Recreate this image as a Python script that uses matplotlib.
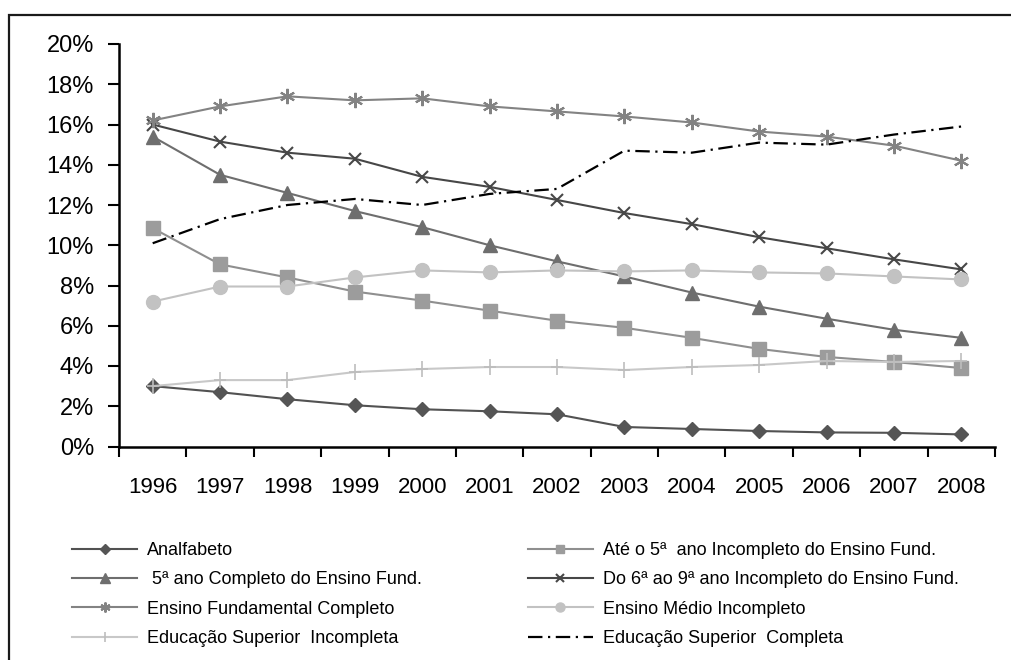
import matplotlib
matplotlib.use("Agg")
import matplotlib.pyplot as plt
from matplotlib.patches import Rectangle
from matplotlib.ticker import FixedLocator, PercentFormatter

plt.rcParams['font.family'] = ['Liberation Sans', 'DejaVu Sans']

years = [1996, 1997, 1998, 1999, 2000, 2001, 2002, 2003, 2004, 2005, 2006, 2007, 2008]

analfabeto = [3.0, 2.7, 2.35, 2.05, 1.85, 1.75, 1.6, 0.97, 0.87, 0.77, 0.7, 0.68, 0.6]
ate_5_incompleto = [10.85, 9.05, 8.4, 7.7, 7.25, 6.75, 6.25, 5.9, 5.4, 4.85, 4.45, 4.2, 3.9]
quinto_completo = [15.4, 13.5, 12.6, 11.7, 10.9, 10.0, 9.2, 8.45, 7.65, 6.95, 6.35, 5.8, 5.4]
sexto_nono_incompleto = [16.0, 15.15, 14.6, 14.3, 13.4, 12.9, 12.25, 11.6, 11.05, 10.4, 9.85, 9.3, 8.8]
fundamental_completo = [16.2, 16.9, 17.4, 17.2, 17.3, 16.9, 16.65, 16.4, 16.1, 15.65, 15.4, 14.95, 14.2]
medio_incompleto = [7.2, 7.95, 7.95, 8.4, 8.75, 8.65, 8.75, 8.7, 8.75, 8.65, 8.6, 8.45, 8.3]
superior_incompleta = [3.0, 3.3, 3.3, 3.7, 3.85, 3.95, 3.95, 3.8, 3.95, 4.05, 4.25, 4.2, 4.25]
superior_completa = [10.1, 11.3, 12.0, 12.3, 12.0, 12.55, 12.8, 14.7, 14.6, 15.1, 15.0, 15.5, 15.9]

labels = {
    'analfabeto': 'Analfabeto',
    'ate5': 'Até o 5ª  ano Incompleto do Ensino Fund.',
    'q5': ' 5ª ano Completo do Ensino Fund.',
    'd69': 'Do 6ª ao 9ª ano Incompleto do Ensino Fund.',
    'efc': 'Ensino Fundamental Completo',
    'emi': 'Ensino Médio Incompleto',
    'esi': 'Educação Superior  Incompleta',
    'esc': 'Educação Superior  Completa',
}

W, H = 1012, 660
fig = plt.figure(figsize=(W / 100, H / 100), dpi=100)

# outer frame around the chart area
fig.patches.append(Rectangle((9 / W, -0.05), 1.2, 1 - 15 / H + 0.05,
                             transform=fig.transFigure, fill=False,
                             edgecolor='#1a1a1a', linewidth=1.6))

ax = fig.add_axes([119 / W, 1 - 446.5 / H, (995 - 119) / W, (446.5 - 44) / H])
x = list(range(len(years)))

h_an, = ax.plot(x, analfabeto, color='#525252', lw=1.5, marker='D', ms=7.5,
                mfc='#555555', mec='#555555', label=labels['analfabeto'])
h_a5, = ax.plot(x, ate_5_incompleto, color='#8f8f8f', lw=1.5, marker='s', ms=9.5,
                mfc='#9c9c9c', mec='#9c9c9c', label=labels['ate5'])
h_q5, = ax.plot(x, quinto_completo, color='#6e6e6e', lw=1.5, marker='^', ms=10,
                mfc='#6e6e6e', mec='#6e6e6e', label=labels['q5'])
h_d69, = ax.plot(x, sexto_nono_incompleto, color='#474747', lw=1.5, marker='x', ms=9,
                 mew=1.5, mec='#474747', label=labels['d69'])
h_efc, = ax.plot(x, fundamental_completo, color='#838383', lw=1.5, marker=(6, 2, 0), ms=11,
                 mew=1.5, mec='#838383', label=labels['efc'])
h_emi, = ax.plot(x, medio_incompleto, color='#c2c2c2', lw=1.5, marker='o', ms=10,
                 mfc='#c2c2c2', mec='#c2c2c2', label=labels['emi'])
h_esi, = ax.plot(x, superior_incompleta, color='#c8c8c8', lw=1.5, marker='|', ms=12,
                 mew=1.2, mec='#bdbdbd', label=labels['esi'])
h_esc, = ax.plot(x, superior_completa, color='black', lw=1.6,
                 linestyle=(0, (6.5, 2.5, 1, 2.5)), label=labels['esc'])

# horizontal bar of the "+" markers
ax.plot(x, superior_incompleta, linestyle='none', marker='_', ms=9, mew=1.2, mec='#bdbdbd')

ax.set_xlim(-0.5, len(years) - 0.5)
ax.set_ylim(0, 20)
ax.yaxis.set_major_locator(FixedLocator([0, 2, 4, 6, 8, 10, 12, 14, 16, 18, 20]))
ax.yaxis.set_major_formatter(PercentFormatter(decimals=0))

ax.set_xticks([i - 0.5 for i in range(len(years) + 1)])
ax.set_xticklabels([])
ax.set_xticks(x, minor=True)
ax.set_xticklabels([str(y) for y in years], minor=True)
ax.tick_params(axis='x', which='major', direction='out', length=7, width=1.5, color='black')
ax.tick_params(axis='x', which='minor', length=0, pad=22, labelsize=16)
ax.tick_params(axis='y', direction='out', length=8, width=1.5, pad=10, labelsize=17)

for s in ['top', 'right']:
    ax.spines[s].set_visible(False)
for s in ['left', 'bottom']:
    ax.spines[s].set_linewidth(1.8)
    ax.spines[s].set_color('black')

legend_kw = dict(frameon=False, fontsize=13, handlelength=3.6, handletextpad=0.55,
                 labelspacing=0.68, borderpad=0, borderaxespad=0, loc='upper left',
                 markerscale=0.65)
leg1 = fig.legend([h_an, h_q5, h_efc, h_esi],
                  [labels['analfabeto'], labels['q5'], labels['efc'], labels['esi']],
                  bbox_to_anchor=(72 / W, 1 - 542 / H), **legend_kw)
leg2 = fig.legend([h_a5, h_d69, h_emi, h_esc],
                  [labels['ate5'], labels['d69'], labels['emi'], labels['esc']],
                  bbox_to_anchor=(528 / W, 1 - 542 / H), **legend_kw)

fig.savefig('out.png', dpi=100)
